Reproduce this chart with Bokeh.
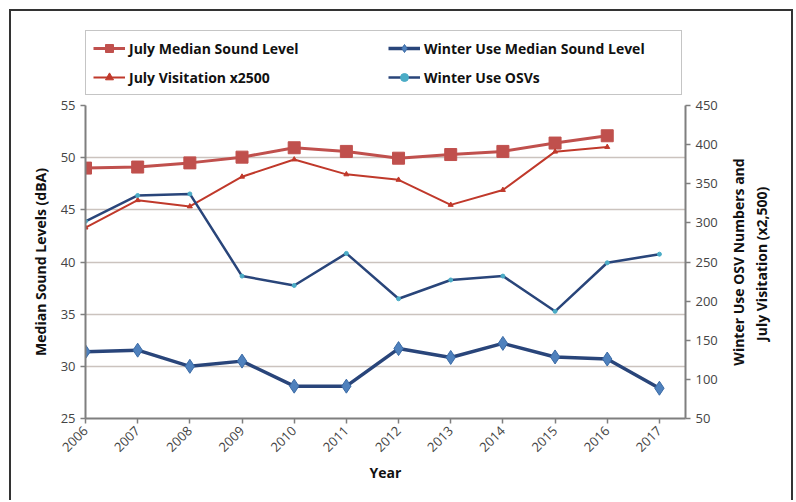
from math import pi

from bokeh.embed import file_html
from bokeh.layouts import column, row
from bokeh.models import FixedTicker, Legend, LegendItem, LinearAxis, Range1d
from bokeh.plotting import figure
from bokeh.resources import INLINE

# values
years = [2006, 2007, 2008, 2009, 2010, 2011, 2012, 2013, 2014, 2015, 2016, 2017]
july_years = years[:11]
july_median = [49.0, 49.1, 49.5, 50.05, 50.95, 50.6, 49.95, 50.3, 50.6, 51.4, 52.1]
july_visitation = [294, 329, 321, 359, 381, 362, 355, 323, 342, 391, 397]
winter_median = [31.4, 31.55, 30.0, 30.5, 28.1, 28.1, 31.7, 30.85, 32.2, 30.9, 30.7, 27.9]
winter_osvs = [302, 335, 337, 232, 220, 261, 203, 227, 232, 187, 249, 260]

left_ticks = [25, 30, 35, 40, 45, 50, 55]
right_ticks = [50, 100, 150, 200, 250, 300, 350, 400, 450]

FONT = "Open Sans"
RED = "#c0504d"
RED_DARK = "#c0392b"
NAVY = "#29457a"
BLUE = "#4f81bd"
TEAL = "#4bacc6"
AXIS_GREY = "#7f7f7f"
EDGE = "2px solid #333"

series = {
    "jm": dict(label="July Median Sound Level", x=july_years, y=july_median, right=False,
               line=dict(line_color=RED, line_width=3),
               marker=dict(marker="square", size=12, fill_color=RED, line_color=RED)),
    "wm": dict(label="Winter Use Median Sound Level", x=years, y=winter_median, right=False,
               line=dict(line_color=NAVY, line_width=3.5),
               marker=dict(marker="diamond", size=14, fill_color=BLUE, line_color="#3a6aa5")),
    "jv": dict(label="July Visitation x2500", x=july_years, y=july_visitation, right=True,
               line=dict(line_color=RED_DARK, line_width=2),
               marker=dict(marker="triangle", size=5, fill_color=RED_DARK, line_color=RED_DARK)),
    "wo": dict(label="Winter Use OSVs", x=years, y=winter_osvs, right=True,
               line=dict(line_color=NAVY, line_width=2.5),
               marker=dict(marker="circle", size=4, fill_color=TEAL, line_color=TEAL)),
}


def style_axis(ax):
    ax.axis_line_color = AXIS_GREY
    ax.axis_line_width = 2
    ax.major_tick_line_color = AXIS_GREY
    ax.major_tick_line_width = 1.5
    ax.major_tick_out = 5
    ax.major_tick_in = 0
    ax.minor_tick_line_color = None
    ax.major_label_text_font = FONT
    ax.major_label_text_font_size = "13px"
    ax.major_label_text_color = "#444444"
    ax.axis_label_text_font = FONT
    ax.axis_label_text_font_size = "14px"
    ax.axis_label_text_font_style = "bold"
    ax.axis_label_text_color = "#111111"


# main chart
p = figure(width=716, height=405, output_backend="svg", toolbar_location=None,
           x_range=Range1d(2006, 2017.5), y_range=Range1d(25, 55),
           min_border_left=74, min_border_right=42, min_border_top=10, min_border_bottom=82)
p.extra_y_ranges = {"right": Range1d(50, 450)}
p.styles = {"border-left": EDGE}
p.outline_line_color = None

p.yaxis.ticker = FixedTicker(ticks=left_ticks)
p.yaxis.axis_label = "Median Sound Levels (dBA)"
right = LinearAxis(y_range_name="right", ticker=FixedTicker(ticks=right_ticks))
p.add_layout(right, "right")

p.xaxis.ticker = FixedTicker(ticks=years)
p.xaxis.axis_label = "Year"
p.xaxis.major_label_orientation = pi / 4
for ax in p.xaxis + p.yaxis:
    style_axis(ax)
p.xaxis.axis_label_standoff = 4
p.yaxis.axis_label_standoff = 8

p.xgrid.grid_line_color = None
p.ygrid.grid_line_color = "#cbc3be"
p.ygrid.grid_line_width = 1.5
p.ygrid.ticker = FixedTicker(ticks=left_ticks)

for key in ["jm", "jv", "wo", "wm"]:
    s = series[key]
    extra = {"y_range_name": "right"} if s["right"] else {}
    p.line(s["x"], s["y"], **s["line"], **extra)
    p.scatter(s["x"], s["y"], **s["marker"], **extra)

# title of the right axis, set as a left axis label of a narrow strip so it reads upward
side = figure(width=68, height=405, output_backend="svg", toolbar_location=None,
              x_axis_location=None, x_range=Range1d(0, 1), y_range=Range1d(50, 450),
              min_border_left=47, min_border_right=0, min_border_top=10, min_border_bottom=82)
side.styles = {"border-right": EDGE}
side.outline_line_color = None
side.grid.grid_line_color = None
side.yaxis.ticker = FixedTicker(ticks=[250])
side.yaxis.axis_label = "Winter Use OSV Numbers and\nJuly Visitation  (x2,500)"
style_axis(side.yaxis[0])
side.yaxis.axis_line_color = None
side.yaxis.major_tick_line_color = None
side.yaxis.major_tick_out = 0
side.yaxis.major_label_text_font_size = "1px"
side.yaxis.major_label_text_alpha = 0
side.yaxis.axis_label_standoff = 2

# legend strip above the chart; its renderers sit outside the strip's ranges
leg = figure(width=784, height=86, output_backend="svg", toolbar_location=None,
             x_axis_location=None, y_axis_location=None,
             x_range=Range1d(0, 1), y_range=Range1d(0, 1),
             min_border_left=74, min_border_right=108, min_border_top=19, min_border_bottom=0)
leg.styles = {"border-left": EDGE, "border-top": EDGE, "border-right": EDGE}
leg.outline_line_color = None
leg.grid.grid_line_color = None

items = []
for key in ["jm", "wm", "jv", "wo"]:
    s = series[key]
    ln = leg.line(s["x"], s["y"], **s["line"])
    mk = leg.scatter(s["x"], s["y"], **s["marker"])
    items.append(LegendItem(label=s["label"], renderers=[ln, mk]))

legend = Legend(items=items, orientation="horizontal", nrows=2, location="top_left",
                label_width=250, glyph_width=32, glyph_height=20, label_height=20,
                spacing=9, padding=7, margin=0, label_standoff=4)
legend.label_text_font = FONT
legend.label_text_font_size = "14px"
legend.label_text_font_style = "bold"
legend.label_text_color = "#111111"
legend.border_line_color = "#8c8c8c"
legend.border_line_width = 1.5
leg.add_layout(legend)

page = column(leg, row(p, side), styles={"margin-left": "9px", "margin-top": "9px"})

open("out.html", "w").write(file_html(page, INLINE))
